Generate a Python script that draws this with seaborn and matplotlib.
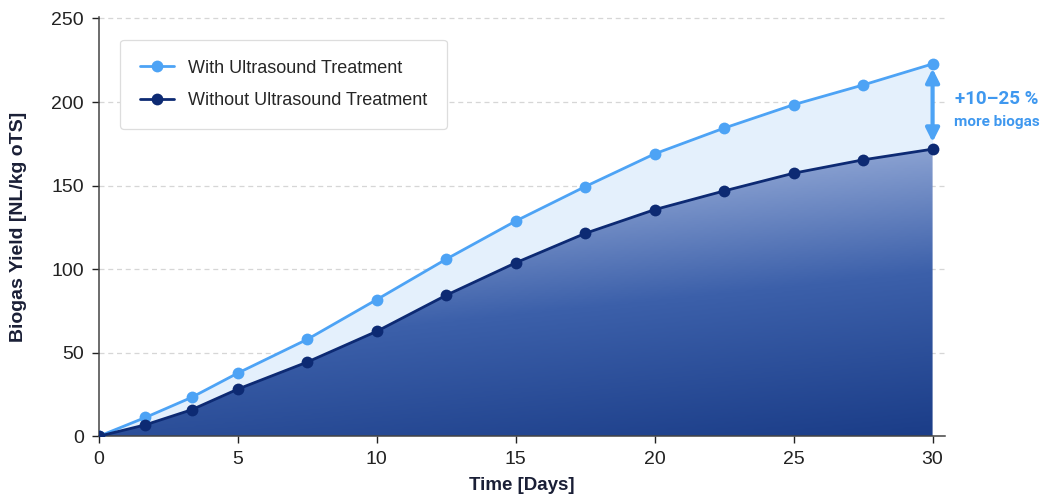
import matplotlib
matplotlib.use("Agg")
import matplotlib.pyplot as plt
import seaborn as sns
import numpy as np
import pandas as pd
from matplotlib.colors import LinearSegmentedColormap

days = [0, 1.67, 3.33, 5, 7.5, 10, 12.5, 15, 17.5, 20, 22.5, 25, 27.5, 30]
with_us = [0, 11.2, 23.2, 37.8, 58.0, 81.8, 106.0, 128.8, 149.4, 169.0, 184.4, 198.4, 210.2, 222.8]
without_us = [0, 6.8, 15.8, 28.2, 44.4, 62.8, 84.4, 103.8, 121.4, 135.6, 146.8, 157.4, 165.4, 171.8]
label_with = "With Ultrasound Treatment"
label_without = "Without Ultrasound Treatment"
y_ticks = [0, 50, 100, 150, 200, 250]
x_ticks = [0, 5, 10, 15, 20, 25, 30]

c_light = "#4da3f5"
c_dark = "#0d2a73"

sns.set_theme(style="ticks")
plt.rcParams['font.family'] = ['Liberation Sans', 'DejaVu Sans']

fig = plt.figure(figsize=(10.42, 4.94), dpi=100)
ax = fig.add_axes([0.095, 0.117, 0.812, 0.849])

df = pd.DataFrame({"day": days, "with": with_us, "without": without_us})

# light band between the curves
ax.fill_between(df["day"], df["without"], df["with"], color="#e4f0fc", zorder=1, lw=0)

# gradient area below the lower curve
poly = ax.fill_between(df["day"], 0, df["without"], color="none", lw=0)
gx, gy = np.meshgrid(np.linspace(0, 1, 200), np.linspace(0, 1, 200))
grad = 0.78 * gy + 0.22 * (1 - gx)
cmap = LinearSegmentedColormap.from_list("bg", ["#1b3d88", "#3c60aa", "#a3b6de"])
img = ax.imshow(grad, extent=[0, 30, 0, 180], origin="lower", aspect="auto",
                cmap=cmap, vmin=0.0, vmax=0.85, zorder=1)
img.set_clip_path(poly.get_paths()[0], transform=ax.transData)

sns.lineplot(data=df, x="day", y="with", ax=ax, color=c_light, lw=2,
             marker="o", markersize=8.5, markeredgewidth=0, label=label_with, zorder=3)
sns.lineplot(data=df, x="day", y="without", ax=ax, color=c_dark, lw=2,
             marker="o", markersize=8.5, markeredgewidth=0, label=label_without, zorder=3)

ax.set_xlim(0, 30.45)
ax.set_ylim(0, 251)
ax.set_xticks(x_ticks)
ax.set_yticks(y_ticks)
for yv in y_ticks[1:]:
    ax.axhline(yv, color="#d6d6d6", lw=0.9, ls=(0, (4, 3)), zorder=0)

for s in ["top", "right"]:
    ax.spines[s].set_visible(False)
for s in ["left", "bottom"]:
    ax.spines[s].set_color("#444444")
    ax.spines[s].set_linewidth(1.1)
ax.tick_params(axis="both", labelsize=14, colors="#222222", length=5, width=1, pad=6)

ax.set_xlabel("Time [Days]", fontsize=13.5, fontweight="bold", color="#1a1f36", labelpad=6)
ax.set_ylabel("Biogas Yield [NL/kg oTS]", fontsize=14, fontweight="bold", color="#1a1f36", labelpad=17)

leg = ax.legend(loc="upper left", bbox_to_anchor=(0.025, 0.945), borderaxespad=0,
                fontsize=13, frameon=True, fancybox=True, edgecolor="#dddddd", framealpha=1,
                borderpad=1.1, labelspacing=0.85, handlelength=1.9, handletextpad=0.75)
leg.get_frame().set_linewidth(0.9)

# difference arrow and note
ax.annotate("", xy=(30, 220), xytext=(30, 176),
            arrowprops=dict(arrowstyle="<|-|>", color=c_light, lw=3, mutation_scale=20,
                            shrinkA=0, shrinkB=0), annotation_clip=False, zorder=4)
ax.text(32.3, 202, "+10\u201325 %", ha="center", va="center", fontsize=13.5,
        fontweight="bold", color="#3f98ef", family=["Roboto", "DejaVu Sans"])
ax.text(32.3, 188, "more biogas", ha="center", va="center", fontsize=11,
        fontweight="bold", color="#3f98ef", family=["Roboto", "DejaVu Sans"])

fig.savefig("out.png", dpi=100, facecolor="white")
